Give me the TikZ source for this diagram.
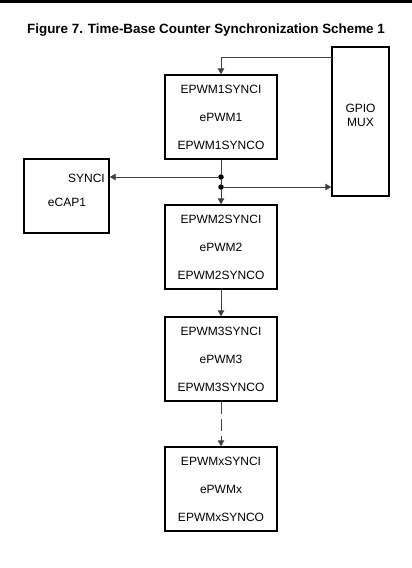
\documentclass[tikz,border=0pt]{standalone}
\usepackage{fontspec}
\setmainfont{Liberation Sans}
\usetikzlibrary{positioning, arrows.meta}
\tikzset{
  modbox/.style={draw, line width=1.4pt, minimum width=112pt, minimum height=84pt,
    inner sep=0pt, align=center, font=\fontsize{12}{28}\selectfont},
  sidebox/.style={draw, line width=1.4pt, inner sep=0pt},
  boxtext/.style={font=\fontsize{12}{14}\selectfont, inner sep=0pt, align=center},
  conn/.style={draw=black!75, line width=0.9pt},
  tri/.style={-{Triangle[length=6pt,width=6.5pt]}},
  jdot/.style={circle, fill=black, inner sep=0pt, minimum size=5.5pt}
}
\begin{document}
\begin{tikzpicture}[x=1pt, y=-1pt]
  \useasboundingbox (0,0) rectangle (412,568);
  \fill (0,0) rectangle (412,3);
  \node[font=\fontsize{13.4}{16}\selectfont\bfseries] (title) at (206,30)
    {Figure 7. Time-Base Counter Synchronization Scheme 1};
  % the ePWM chain
  \node[modbox] (pwm1) at (221,117) {EPWM1SYNCI\\ePWM1\\EPWM1SYNCO};
  \node[modbox] (pwm2) at (221,247) {EPWM2SYNCI\\ePWM2\\EPWM2SYNCO};
  \node[modbox] (pwm3) at (221,359) {EPWM3SYNCI\\ePWM3\\EPWM3SYNCO};
  \node[modbox] (pwmx) at (221,489) {EPWMxSYNCI\\ePWMx\\EPWMxSYNCO};
  % side blocks
  \node[sidebox, minimum width=57pt, minimum height=149pt] (gpio) at (360.5,121.5) {};
  \node[boxtext] (gpiotxt) at (360.5,115) {GPIO\\MUX};
  \node[sidebox, minimum width=85pt, minimum height=74pt] (ecap) at (66.5,196) {};
  \node[boxtext, anchor=east] (syncin) at (105,178) {SYNCI};
  \node[boxtext] (ecaptxt) at (67,202) {eCAP1};
  % junctions on the sync line
  \node[jdot] (j1) at (221,177) {};
  \node[jdot] (j2) at (221,187) {};
  \coordinate (gout) at (332,57);
  \draw[conn, tri] (gout) -| (pwm1.north);
  \draw[conn] (pwm1.south) -- (j1);
  \draw[conn] (j1) -- (j2);
  \draw[conn, tri] (j2) -- (pwm2.north);
  \draw[conn, tri] (j1) -- (j1 -| ecap.east);
  \draw[conn, tri] (j2) -- (j2 -| gpio.west);
  \draw[conn, tri] (pwm2.south) -- (pwm3.north);
  \draw[conn, tri, dash pattern=on 12pt off 5pt] (pwm3.south) -- (pwmx.north);
\end{tikzpicture}
\end{document}
